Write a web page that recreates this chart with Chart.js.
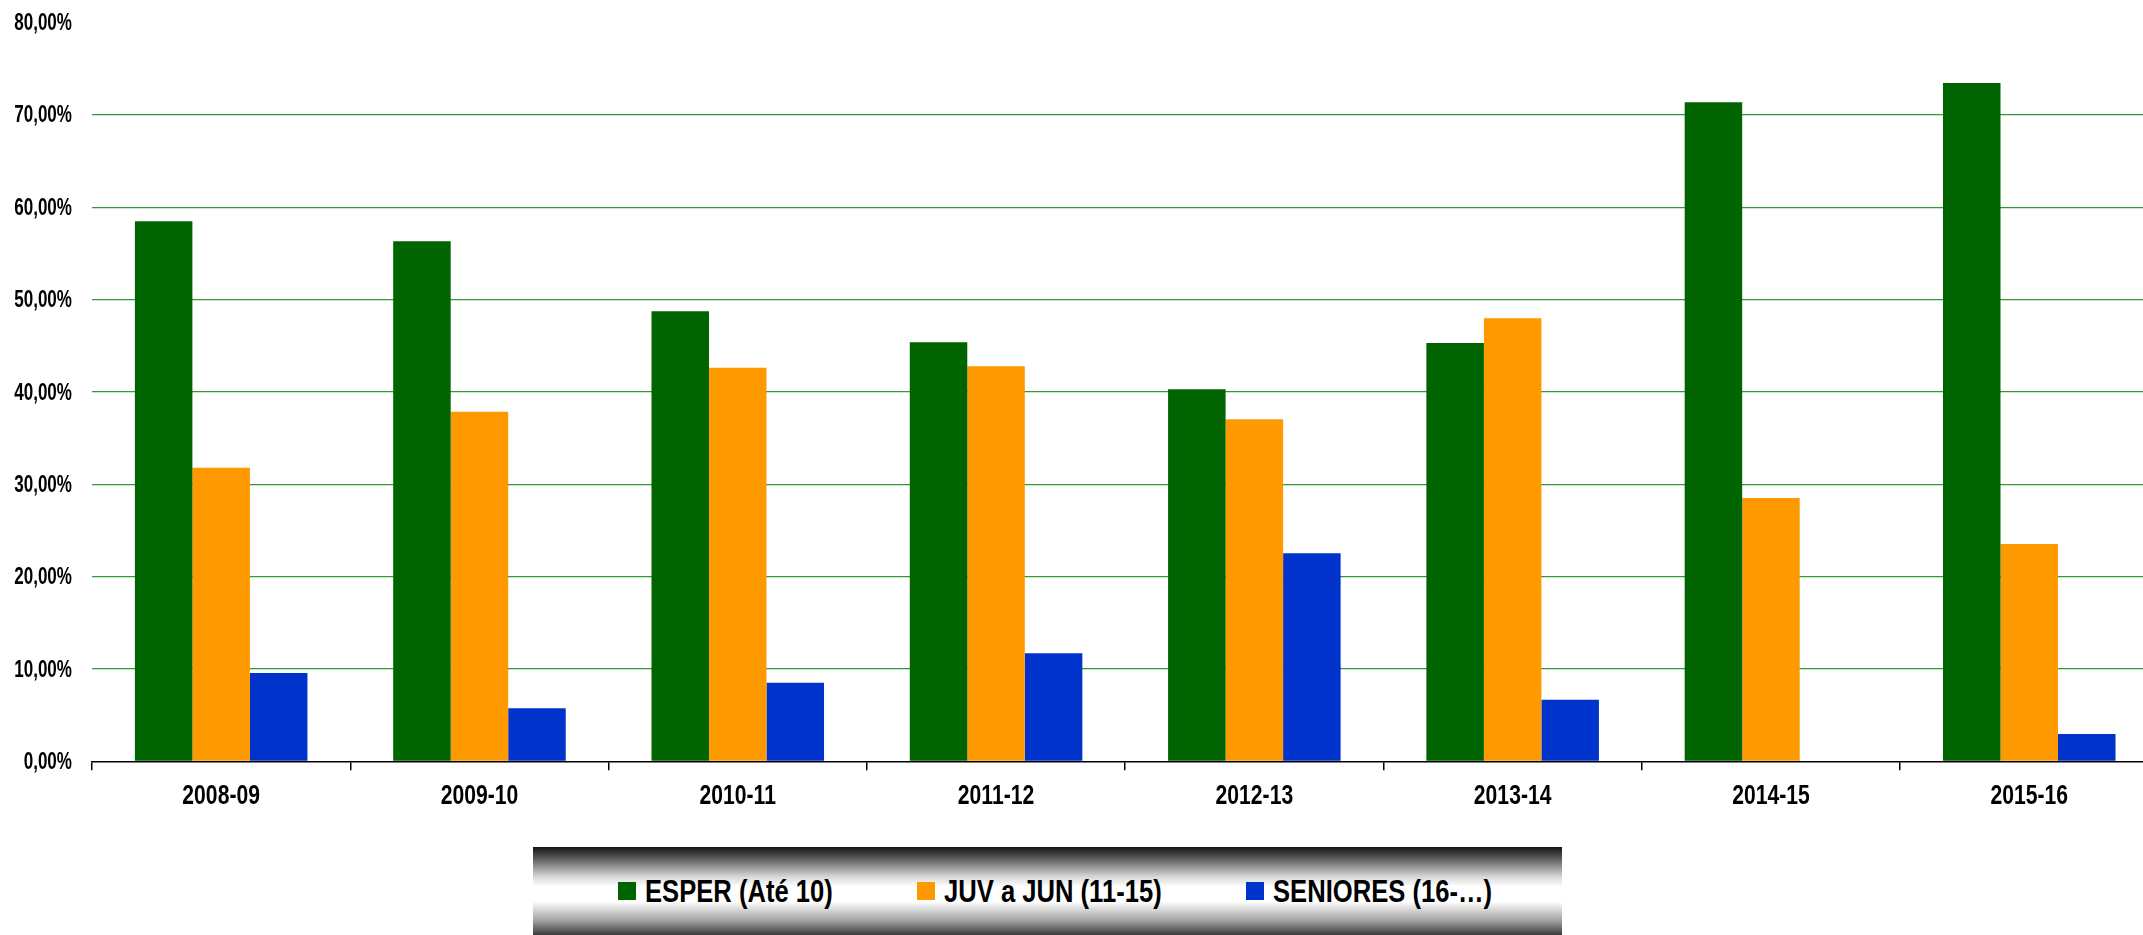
<!DOCTYPE html>
<html>
<head>
<meta charset="utf-8">
<script src="https://cdn.jsdelivr.net/npm/chart.js@4/dist/chart.umd.min.js"></script>
<style>
  html, body { margin: 0; padding: 0; background: #fff; overflow: hidden; }
  #wrap { position: absolute; left: 0; top: 0; width: 2160px; height: 935px; }
  #legend {
    position: absolute; left: 533px; top: 847px; width: 1029px; height: 88px;
    background: linear-gradient(to bottom, #141414 0%, #555 12%, #d8d8d8 34%, #fff 45%, #fff 62%, #a0a0a0 84%, #3a3a3a 100%);
    display: flex; align-items: center; justify-content: center; gap: 84px;
    padding-left: 15px; box-sizing: border-box;
    font-family: 'Liberation Sans', Arial, sans-serif;
    font-weight: bold; font-size: 32px; color: #000;
  }
  .item { display: flex; align-items: center; white-space: nowrap; }
  .sw { width: 18px; height: 18px; margin-right: 9px; flex: none; }
  .txt { display: inline-block; transform: scaleX(0.8); transform-origin: left center; }
</style>
</head>
<body>
<div id="wrap"><canvas id="chart"></canvas></div>
<div id="legend"></div>
<script>
// seasons and shares per age group (percent)
const seasons = ['2008-09', '2009-10', '2010-11', '2011-12', '2012-13', '2013-14', '2014-15', '2015-16'];
const seriesNames = ['ESPER (Até 10)', 'JUV a JUN (11-15)', 'SENIORES (16-…)'];
const esper = [58.47, 56.30, 48.73, 45.37, 40.28, 45.30, 71.36, 73.45];
const juvJun = [31.80, 37.86, 42.62, 42.77, 37.03, 47.97, 28.51, 23.53];
const seniores = [9.56, 5.74, 8.51, 11.69, 22.52, 6.67, 0, 2.96];
const colors = ['#006400', '#FF9900', '#0033CC'];
const yTicks = [0, 10, 20, 30, 40, 50, 60, 70, 80];

const fontFam = "'Liberation Sans', Arial, sans-serif";
const allData = [esper, juvJun, seniores];
const fmtPct = v => v.toFixed(2).replace('.', ',') + '%';

// legend in html (gradient box), text squeezed to look condensed
const legend = document.getElementById('legend');
seriesNames.forEach((n, i) => {
  const it = document.createElement('div');
  it.className = 'item';
  const sw = document.createElement('span');
  sw.className = 'sw';
  sw.style.background = colors[i];
  const t = document.createElement('span');
  t.className = 'txt';
  t.textContent = n;
  it.appendChild(sw);
  it.appendChild(t);
  legend.appendChild(it);
  t.style.marginRight = (-0.2 * t.offsetWidth) + 'px';
});

// condensed tick labels, drawn over the scales
const condensedLabels = {
  id: 'condensedLabels',
  afterDraw(chart) {
    const ctx = chart.ctx;
    const xs = chart.scales.x, ys = chart.scales.y;
    ctx.save();
    ctx.fillStyle = '#000';
    ctx.font = 'bold 24px ' + fontFam;
    ctx.textAlign = 'right';
    ctx.textBaseline = 'middle';
    yTicks.forEach(v => {
      ctx.save();
      ctx.translate(72, ys.getPixelForValue(v) + 1);
      ctx.scale(0.71, 1);
      ctx.fillText(fmtPct(v), 0, 0);
      ctx.restore();
    });
    ctx.font = 'bold 28px ' + fontFam;
    ctx.textAlign = 'center';
    seasons.forEach((s, i) => {
      ctx.save();
      ctx.translate(xs.getPixelForValue(i), xs.bottom - 139);
      ctx.scale(0.755, 1);
      ctx.fillText(s, 0, 0);
      ctx.restore();
    });
    ctx.restore();
  }
};

const canvas = document.getElementById('chart');
canvas.width = 2160;
canvas.height = 935;
canvas.style.width = '2160px';
canvas.style.height = '935px';

new Chart(canvas.getContext('2d'), {
  type: 'bar',
  data: {
    labels: seasons,
    datasets: seriesNames.map((n, i) => ({
      label: n,
      data: allData[i],
      backgroundColor: colors[i],
      borderWidth: 0,
      barPercentage: 1,
      categoryPercentage: 0.668
    }))
  },
  plugins: [condensedLabels],
  options: {
    responsive: false,
    animation: false,
    layout: { padding: { top: 22.5, right: 1.6, left: 0, bottom: 0 } },
    plugins: { legend: { display: false }, tooltip: { enabled: false } },
    scales: {
      x: {
        grid: { display: true, drawOnChartArea: false, drawTicks: true, tickLength: 9, color: '#000', lineWidth: 1.5, offset: true },
        border: { display: true, color: '#000', width: 1.5 },
        ticks: { display: false },
        afterFit: s => { s.height = 935 - 761.3; }
      },
      y: {
        min: 0, max: 80,
        afterBuildTicks: s => { s.ticks = yTicks.map(v => ({ value: v })); },
        grid: {
          drawTicks: false, tickLength: 0, lineWidth: 1.3,
          color: c => c.tick && (c.tick.value === 0 || c.tick.value === 80) ? 'rgba(0,0,0,0)' : '#339933'
        },
        border: { display: false },
        ticks: { display: false },
        afterFit: s => { s.width = 92; }
      }
    }
  }
});
</script>
</body>
</html>
